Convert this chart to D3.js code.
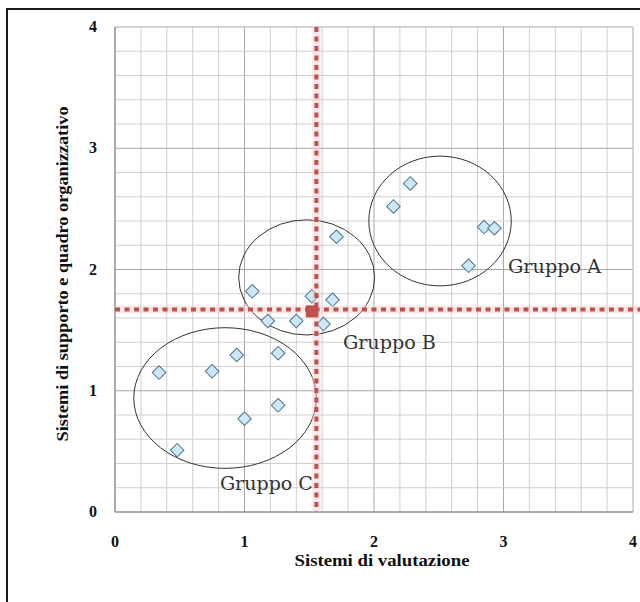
<!DOCTYPE html>
<html>
<head>
<meta charset="utf-8">
<script src="https://cdn.jsdelivr.net/npm/d3@7"></script>
<style>
  body { margin: 0; background: #fff; }
</style>
</head>
<body>
<div id="chart"></div>
<script>
const width = 640;
const height = 602;

// dati
const groups = ['A', 'B', 'C'];
const xValues = [2.28, 2.15, 2.85, 2.93, 2.73,
                 1.71, 1.06, 1.52, 1.68, 1.18, 1.40, 1.61,
                 0.34, 0.75, 0.94, 1.26, 1.00, 1.26, 0.48];
const yValues = [2.71, 2.52, 2.35, 2.34, 2.03,
                 2.27, 1.82, 1.78, 1.75, 1.575, 1.575, 1.55,
                 1.15, 1.16, 1.295, 1.31, 0.77, 0.88, 0.51];
const pointGroup = ['A', 'A', 'A', 'A', 'A',
                    'B', 'B', 'B', 'B', 'B', 'B', 'B',
                    'C', 'C', 'C', 'C', 'C', 'C', 'C'];

// ellissi dei gruppi (centro e raggi in unità del grafico)
const ellipseCx = [2.51, 1.48, 0.85];
const ellipseCy = [2.40, 1.935, 0.94];
const ellipseRx = [0.55, 0.525, 0.705];
const ellipseRy = [0.535, 0.475, 0.58];
const labelX = [3.035, 1.76, 0.81];
const labelY = [1.97, 1.345, 0.18];
const labelText = ['Gruppo A', 'Gruppo B', 'Gruppo C'];

// linee medie e punto medio
const meanLineX = 1.555;
const meanLineY = 1.67;
const meanPoint = [1.52, 1.655];

const xTicks = [0, 1, 2, 3, 4];
const yTicks = [0, 1, 2, 3, 4];
const xTitle = 'Sistemi di valutazione';
const yTitle = 'Sistemi di supporto e quadro organizzativo';

let svg = d3.select('#chart').append('svg')
    .attr('width', width)
    .attr('height', height);

let x = d3.scaleLinear().domain([0, 4]).range([115, 633]);
let y = d3.scaleLinear().domain([0, 4]).range([512, 27]);

// cornice esterna
svg.append('path')
    .attr('d', 'M7,' + height + 'V9H' + width)
    .attr('fill', 'none')
    .attr('stroke', '#1a1a1a')
    .attr('stroke-width', 2);

// griglia
let grid = svg.append('g');
grid.selectAll('line.gx').data(x.ticks(20)).enter().append('line')
    .attr('x1', d => x(d)).attr('x2', d => x(d))
    .attr('y1', y(0)).attr('y2', y(4))
    .attr('stroke', d => Math.abs(d - Math.round(d)) < 1e-6 ? '#a8a8a8' : '#cfcfcf')
    .attr('stroke-width', 1);
grid.selectAll('line.gy').data(y.ticks(20)).enter().append('line')
    .attr('y1', d => y(d)).attr('y2', d => y(d))
    .attr('x1', x(0)).attr('x2', x(4))
    .attr('stroke', d => Math.abs(d - Math.round(d)) < 1e-6 ? '#a8a8a8' : '#cfcfcf')
    .attr('stroke-width', 1);

// assi
svg.append('line')
    .attr('x1', x(0)).attr('x2', x(0)).attr('y1', y(0)).attr('y2', y(4))
    .attr('stroke', '#858585');
svg.append('line')
    .attr('x1', x(0)).attr('x2', x(4)).attr('y1', y(0)).attr('y2', y(0))
    .attr('stroke', '#858585');

// etichette dei tick
svg.selectAll('text.xt').data(xTicks).enter().append('text')
    .attr('x', d => x(d))
    .attr('y', 547)
    .attr('text-anchor', 'middle')
    .style('font-family', '"Liberation Serif", serif')
    .style('font-weight', 'bold')
    .style('font-size', '16px')
    .style('fill', '#111')
    .text(d => d);
svg.selectAll('text.yt').data(yTicks).enter().append('text')
    .attr('x', 97)
    .attr('y', d => y(d) + 5)
    .attr('text-anchor', 'end')
    .style('font-family', '"Liberation Serif", serif')
    .style('font-weight', 'bold')
    .style('font-size', '16px')
    .style('fill', '#111')
    .text(d => d);

// titoli assi
svg.append('text')
    .attr('x', 382)
    .attr('y', 566)
    .attr('text-anchor', 'middle')
    .attr('textLength', 175)
    .attr('lengthAdjust', 'spacingAndGlyphs')
    .style('font-family', '"Liberation Serif", serif')
    .style('font-weight', 'bold')
    .style('font-size', '16px')
    .style('fill', '#111')
    .text(xTitle);
svg.append('text')
    .attr('transform', 'translate(68, 274) rotate(-90)')
    .attr('text-anchor', 'middle')
    .attr('textLength', 335)
    .attr('lengthAdjust', 'spacingAndGlyphs')
    .style('font-family', '"Liberation Serif", serif')
    .style('font-weight', 'bold')
    .style('font-size', '16px')
    .style('fill', '#111')
    .text(yTitle);

// ellissi
svg.selectAll('ellipse').data(groups).enter().append('ellipse')
    .attr('cx', (d, i) => x(ellipseCx[i]))
    .attr('cy', (d, i) => y(ellipseCy[i]))
    .attr('rx', (d, i) => x(ellipseRx[i]) - x(0))
    .attr('ry', (d, i) => y(0) - y(ellipseRy[i]))
    .attr('fill', 'none')
    .attr('stroke', '#333')
    .attr('stroke-width', 1);

// punti (rombi)
let pts = xValues.map((v, i) => ({ x: v, y: yValues[i], g: pointGroup[i] }));
let square = d3.symbol().type(d3.symbolSquare).size(92);
svg.selectAll('path.pt').data(pts).enter().append('path')
    .attr('d', square)
    .attr('transform', d => 'translate(' + x(d.x) + ',' + y(d.y) + ') rotate(45)')
    .attr('fill', '#cce8f8')
    .attr('stroke', '#4d7391')
    .attr('stroke-width', 1);

// etichette gruppi
svg.selectAll('text.lab').data(labelText).enter().append('text')
    .attr('x', (d, i) => x(labelX[i]))
    .attr('y', (d, i) => y(labelY[i]))
    .attr('textLength', 93)
    .attr('lengthAdjust', 'spacingAndGlyphs')
    .style('font-family', '"DejaVu Serif", serif')
    .style('font-size', '18px')
    .style('fill', '#333')
    .text(d => d);

// linee tratteggiate rosse (con alone)
let mean = svg.append('g');
mean.append('line')
    .attr('x1', x(0)).attr('x2', width)
    .attr('y1', y(meanLineY)).attr('y2', y(meanLineY))
    .attr('stroke', '#f2c9c9').attr('stroke-width', 8).attr('opacity', 0.45);
mean.append('line')
    .attr('x1', x(meanLineX)).attr('x2', x(meanLineX))
    .attr('y1', y(4)).attr('y2', y(0))
    .attr('stroke', '#f2c9c9').attr('stroke-width', 8).attr('opacity', 0.45);
mean.append('line')
    .attr('x1', x(0)).attr('x2', width)
    .attr('y1', y(meanLineY)).attr('y2', y(meanLineY))
    .attr('stroke', '#c0504d').attr('stroke-width', 4)
    .attr('stroke-dasharray', '5,4.5');
mean.append('line')
    .attr('x1', x(meanLineX)).attr('x2', x(meanLineX))
    .attr('y1', y(4)).attr('y2', y(0))
    .attr('stroke', '#c0504d').attr('stroke-width', 4)
    .attr('stroke-dasharray', '5,4.5');

// punto medio
mean.append('rect')
    .attr('x', x(meanPoint[0]) - 6)
    .attr('y', y(meanPoint[1]) - 6)
    .attr('width', 12)
    .attr('height', 12)
    .attr('fill', '#c0504d');
</script>
</body>
</html>
